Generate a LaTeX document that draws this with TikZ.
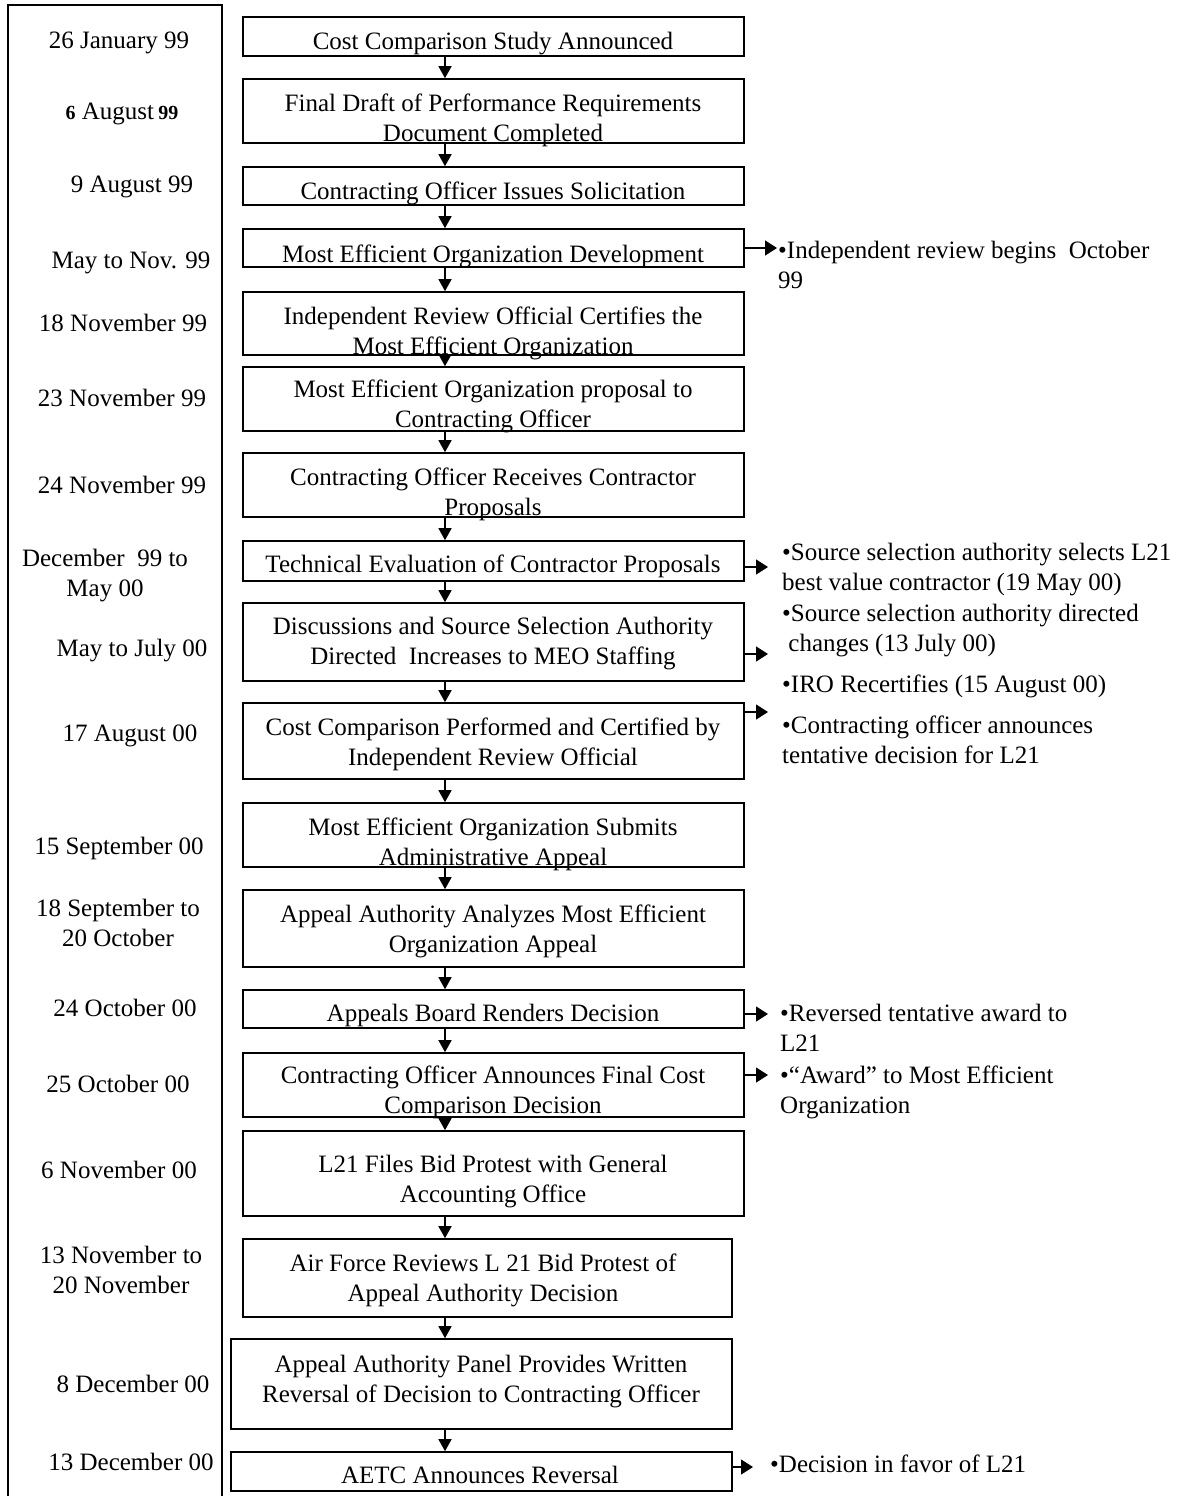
\documentclass[tikz,border=0pt]{standalone}
\usepackage{fontspec}
\setmainfont{Liberation Serif}
\usetikzlibrary{arrows.meta}

\begin{document}
\begin{tikzpicture}[x=1pt,y=-1pt,
stepbox/.style={draw, line width=1.6pt, inner sep=0pt, minimum width=501pt},
lbl/.style={font=\fontsize{25}{30}\selectfont, align=center, inner sep=0pt, anchor=north},
note/.style={font=\fontsize{25}{30}\selectfont, align=left, inner sep=0pt, anchor=north west},
down/.style={line width=1.3pt, -{Triangle[length=12pt,width=13pt]}},
side/.style={line width=1.3pt, -{Triangle[length=12pt,width=15pt]}},
]
\useasboundingbox (0,0) rectangle (1176,1496);

% date column
\draw[line width=1.6pt] (8,5) rectangle (222,1512);

\node[lbl] (d1) at (119,32) {26 January 99};
\node[lbl] (d2) at (122,103) {{\fontsize{20}{24}\selectfont\bfseries 6} August\,{\fontsize{20}{24}\selectfont\bfseries 99}};
\node[lbl] (d3) at (132,176) {9 August 99};
\node[lbl] (d4) at (131,252) {May to Nov. 99};
\node[lbl] (d5) at (123,314) {18 November 99};
\node[lbl] (d6) at (122,389) {23 November 99};
\node[lbl] (d7) at (122,476) {24 November 99};
\node[lbl] (d8) at (105,549) {December\ \ 99 to\\May 00};
\node[lbl] (d9) at (132,639) {May to July 00};
\node[lbl] (d10) at (130,725) {17 August 00};
\node[lbl] (d11) at (119,837) {15 September 00};
\node[lbl] (d12) at (118,899) {18 September to\\20 October};
\node[lbl] (d13) at (125,999) {24 October 00};
\node[lbl] (d14) at (118,1075) {25 October 00};
\node[lbl] (d15) at (119,1161) {6 November 00};
\node[lbl] (d16) at (121,1246) {13 November to\\20 November};
\node[lbl] (d17) at (133,1375) {8 December 00};
\node[lbl] (d18) at (131,1453) {13 December 00};

% steps
\node[stepbox, minimum height=39pt] (b1) at (493.5,36.5) {};
\node[stepbox, minimum height=64pt] (b2) at (493.5,111) {};
\node[stepbox, minimum height=38pt] (b3) at (493.5,186) {};
\node[stepbox, minimum height=38pt] (b4) at (493.5,248) {};
\node[stepbox, minimum height=63pt] (b5) at (493.5,323.5) {};
\node[stepbox, minimum height=64pt] (b6) at (493.5,399) {};
\node[stepbox, minimum height=64pt] (b7) at (493.5,485) {};
\node[stepbox, minimum height=40pt] (b8) at (493.5,561) {};
\node[stepbox, minimum height=78pt] (b9) at (493.5,642) {};
\node[stepbox, minimum height=76pt] (b10) at (493.5,741) {};
\node[stepbox, minimum height=64pt] (b11) at (493.5,835) {};
\node[stepbox, minimum height=77pt] (b12) at (493.5,928.5) {};
\node[stepbox, minimum height=38pt] (b13) at (493.5,1009) {};
\node[stepbox, minimum height=64pt] (b14) at (493.5,1085) {};
\node[stepbox, minimum height=85pt] (b15) at (493.5,1173.5) {};
\node[stepbox, minimum height=78pt, minimum width=489pt] (b16) at (487.5,1278) {};
\node[stepbox, minimum height=90pt] (b17) at (481.5,1384) {};
\node[stepbox, minimum height=39pt] (b18) at (481.5,1471.5) {};

\node[lbl] (t1) at (493,32) {Cost Comparison Study Announced};
\node[lbl] (t2) at (493,94) {Final Draft of Performance Requirements\\Document Completed};
\node[lbl] (t3) at (493,182) {Contracting Officer Issues Solicitation};
\node[lbl] (t4) at (493,245) {Most Efficient Organization Development};
\node[lbl] (t5) at (493,307) {Independent Review Official Certifies the\\Most Efficient Organization};
\node[lbl] (t6) at (493,380) {Most Efficient Organization proposal to\\Contracting Officer};
\node[lbl] (t7) at (493,468) {Contracting Officer Receives Contractor\\Proposals};
\node[lbl] (t8) at (493,555) {Technical Evaluation of Contractor Proposals};
\node[lbl] (t9) at (493,617) {Discussions and Source Selection Authority\\Directed\ \ Increases to MEO Staffing};
\node[lbl] (t10) at (493,718) {Cost Comparison Performed and Certified by\\Independent Review Official};
\node[lbl] (t11) at (493,818) {Most Efficient Organization Submits\\Administrative Appeal};
\node[lbl] (t12) at (493,905) {Appeal Authority Analyzes Most Efficient\\Organization Appeal};
\node[lbl] (t13) at (493,1004) {Appeals Board Renders Decision};
\node[lbl] (t14) at (493,1066) {Contracting Officer Announces Final Cost\\Comparison Decision};
\node[lbl] (t15) at (493,1155) {L21 Files Bid Protest with General\\Accounting Office};
\node[lbl] (t16) at (483,1254) {Air Force Reviews L 21 Bid Protest of\\Appeal Authority Decision};
\node[lbl] (t17) at (481,1355) {Appeal Authority Panel Provides Written\\Reversal of Decision to Contracting Officer};
\node[lbl] (t18) at (480,1466) {AETC Announces Reversal};

% side notes
\node[note] (n1) at (778,241) {•Independent review begins\ \ October\\99};
\node[note] (n2) at (782,543) {•Source selection authority selects L21\\best value contractor (19 May 00)};
\node[note] (n3) at (782,604) {•Source selection authority directed\\\ changes (13 July 00)};
\node[note] (n4) at (782,675) {•IRO Recertifies (15 August 00)};
\node[note] (n5) at (782,716) {•Contracting officer announces\\tentative decision for L21};
\node[note] (n6) at (780,1004) {•Reversed tentative award to\\L21};
\node[note] (n7) at (780,1066) {•“Award” to Most Efficient\\Organization};
\node[note] (n8) at (770,1455) {•Decision in favor of L21};

\coordinate (ax) at (445,0);
\coordinate (a1) at (777,248);
\coordinate (a2) at (768,567);
\coordinate (a3) at (768,654);
\coordinate (a4) at (768,712);
\coordinate (a5) at (768,1014);
\coordinate (a6) at (768,1075);
\coordinate (a7) at (753,1467);

\path[down]
(b1.south -| ax) edge (b2.north -| ax)
(b2.south -| ax) edge (b3.north -| ax)
(b3.south -| ax) edge (b4.north -| ax)
(b4.south -| ax) edge (b5.north -| ax)
(b5.south -| ax) edge (b6.north -| ax)
(b6.south -| ax) edge (b7.north -| ax)
(b7.south -| ax) edge (b8.north -| ax)
(b8.south -| ax) edge (b9.north -| ax)
(b9.south -| ax) edge (b10.north -| ax)
(b10.south -| ax) edge (b11.north -| ax)
(b11.south -| ax) edge (b12.north -| ax)
(b12.south -| ax) edge (b13.north -| ax)
(b13.south -| ax) edge (b14.north -| ax)
(b14.south -| ax) edge (b15.north -| ax)
(b15.south -| ax) edge (b16.north -| ax)
(b16.south -| ax) edge (b17.north -| ax)
(b17.south -| ax) edge (b18.north -| ax)
;

\path[side]
(b4.east |- a1) edge (a1)
(b8.east |- a2) edge (a2)
(b9.east |- a3) edge (a3)
(b10.east |- a4) edge (a4)
(b13.east |- a5) edge (a5)
(b14.east |- a6) edge (a6)
(b18.east |- a7) edge (a7)
;
\end{tikzpicture}
\end{document}
